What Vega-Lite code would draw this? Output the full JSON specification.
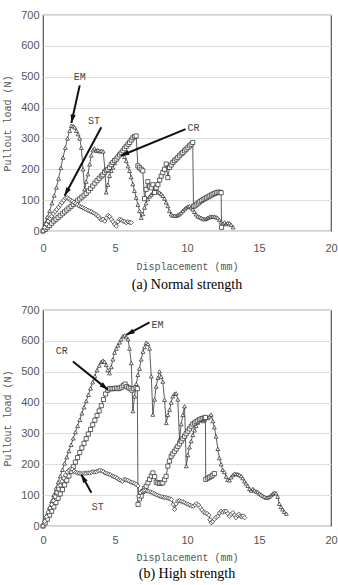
{
  "$schema": "https://vega.github.io/schema/vega-lite/v6.json",
  "padding": {"left": 2, "top": 8, "right": 0, "bottom": 0},
  "spacing": 10,
  "datasets": {
    "normal": [
      {"s":"EM","x":0,"y":0},{"s":"EM","x":0.15,"y":25},{"s":"EM","x":0.3,"y":45},{"s":"EM","x":0.46,"y":65},{"s":"EM","x":0.62,"y":90},{"s":"EM","x":0.78,"y":115},{"s":"EM","x":0.93,"y":141},{"s":"EM","x":1.08,"y":170},{"s":"EM","x":1.24,"y":205},{"s":"EM","x":1.39,"y":238},{"s":"EM","x":1.55,"y":270},{"s":"EM","x":1.7,"y":300},{"s":"EM","x":1.85,"y":325},{"s":"EM","x":1.97,"y":341},{"s":"EM","x":2.1,"y":340},{"s":"EM","x":2.2,"y":336},{"s":"EM","x":2.32,"y":325},{"s":"EM","x":2.43,"y":314},{"s":"EM","x":2.55,"y":300},{"s":"EM","x":2.66,"y":270},{"s":"EM","x":2.78,"y":200},{"s":"EM","x":2.89,"y":135},{"s":"EM","x":3.0,"y":160},{"s":"EM","x":3.12,"y":184},{"s":"EM","x":3.24,"y":216},{"s":"EM","x":3.35,"y":245},{"s":"EM","x":3.47,"y":262},{"s":"EM","x":3.58,"y":268},{"s":"EM","x":3.7,"y":260},{"s":"EM","x":3.82,"y":262},{"s":"EM","x":3.94,"y":258},{"s":"EM","x":4.05,"y":260},{"s":"EM","x":4.18,"y":258},{"s":"EM","x":4.3,"y":200},{"s":"EM","x":4.39,"y":125},{"s":"EM","x":4.5,"y":150},{"s":"EM","x":4.62,"y":179},{"s":"EM","x":4.74,"y":195},{"s":"EM","x":4.85,"y":206},{"s":"EM","x":4.97,"y":220},{"s":"EM","x":5.09,"y":233},{"s":"EM","x":5.2,"y":242},{"s":"EM","x":5.32,"y":249},{"s":"EM","x":5.45,"y":252},{"s":"EM","x":5.55,"y":250},{"s":"EM","x":5.66,"y":240},{"s":"EM","x":5.78,"y":227},{"s":"EM","x":5.9,"y":210},{"s":"EM","x":6.01,"y":195},{"s":"EM","x":6.12,"y":175},{"s":"EM","x":6.24,"y":152},{"s":"EM","x":6.35,"y":130},{"s":"EM","x":6.47,"y":108},{"s":"EM","x":6.59,"y":85},{"s":"EM","x":6.71,"y":65},{"s":"EM","x":6.82,"y":43},{"s":"EM","x":6.93,"y":55},{"s":"EM","x":7.05,"y":76},{"s":"EM","x":7.16,"y":90},{"s":"EM","x":7.28,"y":103},{"s":"EM","x":7.4,"y":112},{"s":"EM","x":7.52,"y":118},{"s":"EM","x":7.63,"y":124},{"s":"EM","x":7.75,"y":128},{"s":"EM","x":7.86,"y":130},{"s":"EM","x":7.98,"y":128},{"s":"EM","x":8.1,"y":124},{"s":"EM","x":8.21,"y":120},{"s":"EM","x":8.32,"y":114},{"s":"EM","x":8.44,"y":105},{"s":"EM","x":8.55,"y":93},{"s":"EM","x":8.67,"y":81},{"s":"EM","x":8.78,"y":65},{"s":"EM","x":8.9,"y":54},{"s":"EM","x":9.01,"y":50},{"s":"EM","x":9.13,"y":50},{"s":"EM","x":9.25,"y":49},{"s":"EM","x":9.37,"y":52},{"s":"EM","x":9.48,"y":55},{"s":"EM","x":9.6,"y":60},{"s":"EM","x":9.72,"y":66},{"s":"EM","x":9.83,"y":71},{"s":"EM","x":9.94,"y":76},{"s":"EM","x":10.06,"y":79},{"s":"EM","x":10.17,"y":81},{"s":"EM","x":10.29,"y":76},{"s":"EM","x":10.4,"y":70},{"s":"EM","x":10.52,"y":62},{"s":"EM","x":10.63,"y":54},{"s":"EM","x":10.75,"y":48},{"s":"EM","x":10.87,"y":45},{"s":"EM","x":10.98,"y":43},{"s":"EM","x":11.1,"y":40},{"s":"EM","x":11.21,"y":38},{"s":"EM","x":11.33,"y":40},{"s":"EM","x":11.44,"y":43},{"s":"EM","x":11.56,"y":45},{"s":"EM","x":11.67,"y":47},{"s":"EM","x":11.79,"y":46},{"s":"EM","x":11.9,"y":47},{"s":"EM","x":12.02,"y":45},{"s":"EM","x":12.13,"y":42},{"s":"EM","x":12.25,"y":36},{"s":"EM","x":12.37,"y":28},{"s":"EM","x":12.48,"y":24},{"s":"EM","x":12.6,"y":28},{"s":"EM","x":12.72,"y":22},{"s":"EM","x":12.83,"y":26},{"s":"EM","x":12.95,"y":25},{"s":"EM","x":13.06,"y":20},{"s":"EM","x":13.2,"y":12},
      {"s":"CR","x":0,"y":0},{"s":"CR","x":0.15,"y":5},{"s":"CR","x":0.3,"y":12},{"s":"CR","x":0.45,"y":18},{"s":"CR","x":0.6,"y":25},{"s":"CR","x":0.75,"y":32},{"s":"CR","x":0.9,"y":38},{"s":"CR","x":1.05,"y":44},{"s":"CR","x":1.2,"y":50},{"s":"CR","x":1.35,"y":56},{"s":"CR","x":1.5,"y":62},{"s":"CR","x":1.65,"y":68},{"s":"CR","x":1.8,"y":74},{"s":"CR","x":1.95,"y":80},{"s":"CR","x":2.1,"y":86},{"s":"CR","x":2.25,"y":92},{"s":"CR","x":2.4,"y":98},{"s":"CR","x":2.55,"y":104},{"s":"CR","x":2.7,"y":110},{"s":"CR","x":2.85,"y":116},{"s":"CR","x":3.0,"y":122},{"s":"CR","x":3.15,"y":130},{"s":"CR","x":3.3,"y":138},{"s":"CR","x":3.45,"y":146},{"s":"CR","x":3.6,"y":155},{"s":"CR","x":3.75,"y":163},{"s":"CR","x":3.9,"y":171},{"s":"CR","x":4.05,"y":178},{"s":"CR","x":4.16,"y":182},{"s":"CR","x":4.28,"y":190},{"s":"CR","x":4.4,"y":196},{"s":"CR","x":4.5,"y":200},{"s":"CR","x":4.62,"y":206},{"s":"CR","x":4.74,"y":215},{"s":"CR","x":4.85,"y":222},{"s":"CR","x":4.97,"y":228},{"s":"CR","x":5.09,"y":233},{"s":"CR","x":5.2,"y":240},{"s":"CR","x":5.32,"y":247},{"s":"CR","x":5.43,"y":253},{"s":"CR","x":5.55,"y":260},{"s":"CR","x":5.66,"y":267},{"s":"CR","x":5.78,"y":274},{"s":"CR","x":5.9,"y":281},{"s":"CR","x":6.01,"y":287},{"s":"CR","x":6.13,"y":295},{"s":"CR","x":6.24,"y":302},{"s":"CR","x":6.36,"y":306},{"s":"CR","x":6.47,"y":308},{"s":"CR","x":6.59,"y":211},{"s":"CR","x":6.7,"y":205},{"s":"CR","x":6.82,"y":200},{"s":"CR","x":6.93,"y":195},{"s":"CR","x":7.05,"y":105},{"s":"CR","x":7.16,"y":135},{"s":"CR","x":7.28,"y":160},{"s":"CR","x":7.4,"y":145},{"s":"CR","x":7.52,"y":140},{"s":"CR","x":7.63,"y":150},{"s":"CR","x":7.75,"y":125},{"s":"CR","x":7.86,"y":140},{"s":"CR","x":7.98,"y":150},{"s":"CR","x":8.1,"y":165},{"s":"CR","x":8.21,"y":178},{"s":"CR","x":8.32,"y":189},{"s":"CR","x":8.44,"y":200},{"s":"CR","x":8.56,"y":217},{"s":"CR","x":8.67,"y":173},{"s":"CR","x":8.79,"y":206},{"s":"CR","x":8.9,"y":214},{"s":"CR","x":9.02,"y":222},{"s":"CR","x":9.13,"y":228},{"s":"CR","x":9.25,"y":233},{"s":"CR","x":9.36,"y":238},{"s":"CR","x":9.48,"y":244},{"s":"CR","x":9.6,"y":250},{"s":"CR","x":9.71,"y":254},{"s":"CR","x":9.83,"y":260},{"s":"CR","x":9.94,"y":265},{"s":"CR","x":10.06,"y":270},{"s":"CR","x":10.17,"y":276},{"s":"CR","x":10.29,"y":281},{"s":"CR","x":10.4,"y":287},{"s":"CR","x":10.45,"y":80},{"s":"CR","x":10.56,"y":82},{"s":"CR","x":10.68,"y":87},{"s":"CR","x":10.79,"y":91},{"s":"CR","x":10.9,"y":95},{"s":"CR","x":11.02,"y":99},{"s":"CR","x":11.13,"y":102},{"s":"CR","x":11.25,"y":105},{"s":"CR","x":11.36,"y":108},{"s":"CR","x":11.48,"y":111},{"s":"CR","x":11.59,"y":114},{"s":"CR","x":11.71,"y":117},{"s":"CR","x":11.82,"y":120},{"s":"CR","x":11.94,"y":122},{"s":"CR","x":12.05,"y":124},{"s":"CR","x":12.17,"y":126},{"s":"CR","x":12.29,"y":125},{"s":"CR","x":12.37,"y":124},{"s":"CR","x":12.4,"y":12},
      {"s":"ST","x":0,"y":0},{"s":"ST","x":0.12,"y":12},{"s":"ST","x":0.24,"y":22},{"s":"ST","x":0.36,"y":32},{"s":"ST","x":0.48,"y":40},{"s":"ST","x":0.6,"y":48},{"s":"ST","x":0.72,"y":56},{"s":"ST","x":0.84,"y":63},{"s":"ST","x":0.96,"y":70},{"s":"ST","x":1.08,"y":77},{"s":"ST","x":1.2,"y":84},{"s":"ST","x":1.32,"y":92},{"s":"ST","x":1.44,"y":100},{"s":"ST","x":1.56,"y":106},{"s":"ST","x":1.68,"y":108},{"s":"ST","x":1.8,"y":104},{"s":"ST","x":1.92,"y":100},{"s":"ST","x":2.04,"y":97},{"s":"ST","x":2.16,"y":93},{"s":"ST","x":2.28,"y":89},{"s":"ST","x":2.4,"y":85},{"s":"ST","x":2.52,"y":81},{"s":"ST","x":2.64,"y":78},{"s":"ST","x":2.76,"y":76},{"s":"ST","x":2.88,"y":73},{"s":"ST","x":3.0,"y":70},{"s":"ST","x":3.12,"y":67},{"s":"ST","x":3.24,"y":65},{"s":"ST","x":3.36,"y":62},{"s":"ST","x":3.48,"y":59},{"s":"ST","x":3.6,"y":56},{"s":"ST","x":3.72,"y":52},{"s":"ST","x":3.84,"y":48},{"s":"ST","x":3.94,"y":40},{"s":"ST","x":4.05,"y":36},{"s":"ST","x":4.17,"y":38},{"s":"ST","x":4.29,"y":32},{"s":"ST","x":4.4,"y":42},{"s":"ST","x":4.52,"y":50},{"s":"ST","x":4.63,"y":47},{"s":"ST","x":4.74,"y":38},{"s":"ST","x":4.86,"y":30},{"s":"ST","x":4.97,"y":22},{"s":"ST","x":5.09,"y":16},{"s":"ST","x":5.2,"y":30},{"s":"ST","x":5.32,"y":38},{"s":"ST","x":5.44,"y":36},{"s":"ST","x":5.55,"y":32},{"s":"ST","x":5.67,"y":30},{"s":"ST","x":5.78,"y":27},{"s":"ST","x":5.9,"y":30},{"s":"ST","x":6.02,"y":28},{"s":"ST","x":6.12,"y":27}
    ],
    "high": [
      {"s":"EM","x":0,"y":0},{"s":"EM","x":0.15,"y":20},{"s":"EM","x":0.3,"y":40},{"s":"EM","x":0.45,"y":60},{"s":"EM","x":0.6,"y":81},{"s":"EM","x":0.75,"y":101},{"s":"EM","x":0.9,"y":122},{"s":"EM","x":1.05,"y":142},{"s":"EM","x":1.2,"y":162},{"s":"EM","x":1.35,"y":182},{"s":"EM","x":1.5,"y":203},{"s":"EM","x":1.65,"y":223},{"s":"EM","x":1.8,"y":243},{"s":"EM","x":1.95,"y":263},{"s":"EM","x":2.1,"y":284},{"s":"EM","x":2.25,"y":304},{"s":"EM","x":2.4,"y":324},{"s":"EM","x":2.55,"y":344},{"s":"EM","x":2.7,"y":365},{"s":"EM","x":2.85,"y":385},{"s":"EM","x":3.0,"y":405},{"s":"EM","x":3.15,"y":425},{"s":"EM","x":3.3,"y":446},{"s":"EM","x":3.45,"y":466},{"s":"EM","x":3.6,"y":486},{"s":"EM","x":3.75,"y":505},{"s":"EM","x":3.9,"y":520},{"s":"EM","x":4.05,"y":532},{"s":"EM","x":4.16,"y":536},{"s":"EM","x":4.28,"y":532},{"s":"EM","x":4.39,"y":522},{"s":"EM","x":4.5,"y":505},{"s":"EM","x":4.62,"y":495},{"s":"EM","x":4.74,"y":515},{"s":"EM","x":4.85,"y":540},{"s":"EM","x":4.97,"y":562},{"s":"EM","x":5.09,"y":575},{"s":"EM","x":5.2,"y":585},{"s":"EM","x":5.32,"y":595},{"s":"EM","x":5.43,"y":605},{"s":"EM","x":5.55,"y":615},{"s":"EM","x":5.66,"y":618},{"s":"EM","x":5.78,"y":612},{"s":"EM","x":5.9,"y":605},{"s":"EM","x":6.01,"y":575},{"s":"EM","x":6.13,"y":528},{"s":"EM","x":6.24,"y":372},{"s":"EM","x":6.36,"y":420},{"s":"EM","x":6.48,"y":460},{"s":"EM","x":6.59,"y":490},{"s":"EM","x":6.7,"y":510},{"s":"EM","x":6.82,"y":540},{"s":"EM","x":6.94,"y":565},{"s":"EM","x":7.05,"y":580},{"s":"EM","x":7.17,"y":594},{"s":"EM","x":7.29,"y":590},{"s":"EM","x":7.4,"y":575},{"s":"EM","x":7.52,"y":485},{"s":"EM","x":7.63,"y":361},{"s":"EM","x":7.75,"y":410},{"s":"EM","x":7.86,"y":452},{"s":"EM","x":7.98,"y":480},{"s":"EM","x":8.09,"y":501},{"s":"EM","x":8.2,"y":484},{"s":"EM","x":8.32,"y":468},{"s":"EM","x":8.44,"y":409},{"s":"EM","x":8.56,"y":334},{"s":"EM","x":8.67,"y":360},{"s":"EM","x":8.79,"y":377},{"s":"EM","x":8.9,"y":400},{"s":"EM","x":9.01,"y":420},{"s":"EM","x":9.13,"y":428},{"s":"EM","x":9.25,"y":430},{"s":"EM","x":9.36,"y":410},{"s":"EM","x":9.48,"y":280},{"s":"EM","x":9.6,"y":330},{"s":"EM","x":9.71,"y":360},{"s":"EM","x":9.83,"y":388},{"s":"EM","x":9.95,"y":194},{"s":"EM","x":10.06,"y":230},{"s":"EM","x":10.17,"y":255},{"s":"EM","x":10.29,"y":275},{"s":"EM","x":10.4,"y":295},{"s":"EM","x":10.52,"y":310},{"s":"EM","x":10.63,"y":325},{"s":"EM","x":10.75,"y":335},{"s":"EM","x":10.87,"y":345},{"s":"EM","x":10.98,"y":350},{"s":"EM","x":11.1,"y":340},{"s":"EM","x":11.21,"y":345},{"s":"EM","x":11.33,"y":352},{"s":"EM","x":11.45,"y":350},{"s":"EM","x":11.56,"y":355},{"s":"EM","x":11.68,"y":361},{"s":"EM","x":11.79,"y":340},{"s":"EM","x":11.9,"y":320},{"s":"EM","x":12.02,"y":290},{"s":"EM","x":12.14,"y":250},{"s":"EM","x":12.25,"y":220},{"s":"EM","x":12.37,"y":200},{"s":"EM","x":12.48,"y":182},{"s":"EM","x":12.6,"y":175},{"s":"EM","x":12.72,"y":160},{"s":"EM","x":12.83,"y":150},{"s":"EM","x":12.95,"y":148},{"s":"EM","x":13.06,"y":158},{"s":"EM","x":13.18,"y":165},{"s":"EM","x":13.3,"y":170},{"s":"EM","x":13.41,"y":168},{"s":"EM","x":13.53,"y":168},{"s":"EM","x":13.64,"y":165},{"s":"EM","x":13.76,"y":162},{"s":"EM","x":13.87,"y":155},{"s":"EM","x":13.99,"y":145},{"s":"EM","x":14.1,"y":138},{"s":"EM","x":14.22,"y":130},{"s":"EM","x":14.34,"y":120},{"s":"EM","x":14.45,"y":115},{"s":"EM","x":14.57,"y":120},{"s":"EM","x":14.68,"y":115},{"s":"EM","x":14.8,"y":112},{"s":"EM","x":14.91,"y":110},{"s":"EM","x":15.03,"y":105},{"s":"EM","x":15.14,"y":102},{"s":"EM","x":15.26,"y":98},{"s":"EM","x":15.37,"y":95},{"s":"EM","x":15.49,"y":92},{"s":"EM","x":15.6,"y":92},{"s":"EM","x":15.72,"y":95},{"s":"EM","x":15.84,"y":100},{"s":"EM","x":15.95,"y":104},{"s":"EM","x":16.07,"y":108},{"s":"EM","x":16.18,"y":106},{"s":"EM","x":16.3,"y":95},{"s":"EM","x":16.41,"y":72},{"s":"EM","x":16.53,"y":62},{"s":"EM","x":16.64,"y":54},{"s":"EM","x":16.76,"y":46},{"s":"EM","x":16.9,"y":40},
      {"s":"CR","x":0,"y":0},{"s":"CR","x":0.15,"y":10},{"s":"CR","x":0.3,"y":22},{"s":"CR","x":0.45,"y":35},{"s":"CR","x":0.6,"y":48},{"s":"CR","x":0.75,"y":62},{"s":"CR","x":0.9,"y":76},{"s":"CR","x":1.05,"y":90},{"s":"CR","x":1.2,"y":104},{"s":"CR","x":1.35,"y":118},{"s":"CR","x":1.5,"y":133},{"s":"CR","x":1.65,"y":148},{"s":"CR","x":1.8,"y":162},{"s":"CR","x":1.95,"y":177},{"s":"CR","x":2.1,"y":192},{"s":"CR","x":2.25,"y":207},{"s":"CR","x":2.4,"y":222},{"s":"CR","x":2.55,"y":238},{"s":"CR","x":2.7,"y":253},{"s":"CR","x":2.85,"y":268},{"s":"CR","x":3.0,"y":283},{"s":"CR","x":3.15,"y":298},{"s":"CR","x":3.3,"y":313},{"s":"CR","x":3.45,"y":328},{"s":"CR","x":3.6,"y":343},{"s":"CR","x":3.75,"y":358},{"s":"CR","x":3.9,"y":373},{"s":"CR","x":4.05,"y":390},{"s":"CR","x":4.2,"y":410},{"s":"CR","x":4.35,"y":428},{"s":"CR","x":4.5,"y":440},{"s":"CR","x":4.62,"y":445},{"s":"CR","x":4.74,"y":445},{"s":"CR","x":4.86,"y":445},{"s":"CR","x":4.98,"y":446},{"s":"CR","x":5.1,"y":447},{"s":"CR","x":5.22,"y":445},{"s":"CR","x":5.34,"y":447},{"s":"CR","x":5.46,"y":450},{"s":"CR","x":5.58,"y":455},{"s":"CR","x":5.7,"y":460},{"s":"CR","x":5.82,"y":452},{"s":"CR","x":5.94,"y":448},{"s":"CR","x":6.06,"y":445},{"s":"CR","x":6.18,"y":440},{"s":"CR","x":6.3,"y":445},{"s":"CR","x":6.45,"y":448},{"s":"CR","x":6.55,"y":445},{"s":"CR","x":6.6,"y":70},{"s":"CR","x":6.7,"y":88},{"s":"CR","x":6.82,"y":97},{"s":"CR","x":6.94,"y":112},{"s":"CR","x":7.05,"y":122},{"s":"CR","x":7.17,"y":129},{"s":"CR","x":7.29,"y":140},{"s":"CR","x":7.4,"y":151},{"s":"CR","x":7.52,"y":162},{"s":"CR","x":7.63,"y":172},{"s":"CR","x":7.75,"y":160},{"s":"CR","x":7.86,"y":142},{"s":"CR","x":7.98,"y":140},{"s":"CR","x":8.09,"y":138},{"s":"CR","x":8.21,"y":139},{"s":"CR","x":8.32,"y":140},{"s":"CR","x":8.44,"y":150},{"s":"CR","x":8.55,"y":161},{"s":"CR","x":8.67,"y":194},{"s":"CR","x":8.78,"y":210},{"s":"CR","x":8.9,"y":226},{"s":"CR","x":9.01,"y":234},{"s":"CR","x":9.13,"y":242},{"s":"CR","x":9.25,"y":250},{"s":"CR","x":9.36,"y":258},{"s":"CR","x":9.48,"y":266},{"s":"CR","x":9.6,"y":275},{"s":"CR","x":9.71,"y":283},{"s":"CR","x":9.83,"y":291},{"s":"CR","x":9.94,"y":299},{"s":"CR","x":10.06,"y":307},{"s":"CR","x":10.17,"y":315},{"s":"CR","x":10.29,"y":323},{"s":"CR","x":10.4,"y":330},{"s":"CR","x":10.52,"y":334},{"s":"CR","x":10.63,"y":338},{"s":"CR","x":10.75,"y":341},{"s":"CR","x":10.87,"y":345},{"s":"CR","x":10.98,"y":347},{"s":"CR","x":11.1,"y":349},{"s":"CR","x":11.21,"y":350},{"s":"CR","x":11.28,"y":352},{"s":"CR","x":11.3,"y":151},{"s":"CR","x":11.45,"y":155},{"s":"CR","x":11.56,"y":158},{"s":"CR","x":11.68,"y":161},{"s":"CR","x":11.79,"y":165},{"s":"CR","x":11.9,"y":170},
      {"s":"ST","x":0,"y":0},{"s":"ST","x":0.12,"y":15},{"s":"ST","x":0.24,"y":30},{"s":"ST","x":0.36,"y":45},{"s":"ST","x":0.48,"y":58},{"s":"ST","x":0.6,"y":70},{"s":"ST","x":0.72,"y":82},{"s":"ST","x":0.84,"y":95},{"s":"ST","x":0.96,"y":108},{"s":"ST","x":1.08,"y":120},{"s":"ST","x":1.2,"y":132},{"s":"ST","x":1.32,"y":145},{"s":"ST","x":1.44,"y":155},{"s":"ST","x":1.56,"y":165},{"s":"ST","x":1.68,"y":175},{"s":"ST","x":1.8,"y":181},{"s":"ST","x":1.92,"y":185},{"s":"ST","x":2.04,"y":184},{"s":"ST","x":2.16,"y":178},{"s":"ST","x":2.28,"y":174},{"s":"ST","x":2.4,"y":172},{"s":"ST","x":2.52,"y":171},{"s":"ST","x":2.64,"y":170},{"s":"ST","x":2.76,"y":170},{"s":"ST","x":2.88,"y":171},{"s":"ST","x":3.0,"y":171},{"s":"ST","x":3.12,"y":172},{"s":"ST","x":3.24,"y":172},{"s":"ST","x":3.36,"y":174},{"s":"ST","x":3.48,"y":176},{"s":"ST","x":3.6,"y":175},{"s":"ST","x":3.72,"y":176},{"s":"ST","x":3.84,"y":179},{"s":"ST","x":3.96,"y":180},{"s":"ST","x":4.08,"y":178},{"s":"ST","x":4.2,"y":176},{"s":"ST","x":4.32,"y":172},{"s":"ST","x":4.44,"y":170},{"s":"ST","x":4.56,"y":168},{"s":"ST","x":4.68,"y":166},{"s":"ST","x":4.8,"y":162},{"s":"ST","x":4.92,"y":160},{"s":"ST","x":5.04,"y":158},{"s":"ST","x":5.16,"y":155},{"s":"ST","x":5.28,"y":150},{"s":"ST","x":5.4,"y":148},{"s":"ST","x":5.52,"y":145},{"s":"ST","x":5.64,"y":150},{"s":"ST","x":5.76,"y":150},{"s":"ST","x":5.88,"y":148},{"s":"ST","x":6.0,"y":145},{"s":"ST","x":6.12,"y":142},{"s":"ST","x":6.24,"y":140},{"s":"ST","x":6.36,"y":138},{"s":"ST","x":6.48,"y":135},{"s":"ST","x":6.59,"y":130},{"s":"ST","x":6.65,"y":97},{"s":"ST","x":6.76,"y":108},{"s":"ST","x":6.88,"y":113},{"s":"ST","x":7.0,"y":115},{"s":"ST","x":7.12,"y":115},{"s":"ST","x":7.24,"y":113},{"s":"ST","x":7.36,"y":112},{"s":"ST","x":7.48,"y":110},{"s":"ST","x":7.6,"y":108},{"s":"ST","x":7.72,"y":105},{"s":"ST","x":7.84,"y":102},{"s":"ST","x":7.96,"y":100},{"s":"ST","x":8.08,"y":97},{"s":"ST","x":8.2,"y":95},{"s":"ST","x":8.32,"y":94},{"s":"ST","x":8.44,"y":92},{"s":"ST","x":8.56,"y":92},{"s":"ST","x":8.68,"y":90},{"s":"ST","x":8.8,"y":88},{"s":"ST","x":8.92,"y":86},{"s":"ST","x":9.04,"y":70},{"s":"ST","x":9.13,"y":54},{"s":"ST","x":9.24,"y":72},{"s":"ST","x":9.36,"y":81},{"s":"ST","x":9.48,"y":82},{"s":"ST","x":9.6,"y":80},{"s":"ST","x":9.72,"y":78},{"s":"ST","x":9.84,"y":75},{"s":"ST","x":9.96,"y":72},{"s":"ST","x":10.08,"y":70},{"s":"ST","x":10.2,"y":68},{"s":"ST","x":10.32,"y":65},{"s":"ST","x":10.44,"y":64},{"s":"ST","x":10.56,"y":68},{"s":"ST","x":10.68,"y":72},{"s":"ST","x":10.8,"y":68},{"s":"ST","x":10.92,"y":60},{"s":"ST","x":11.04,"y":52},{"s":"ST","x":11.16,"y":45},{"s":"ST","x":11.28,"y":42},{"s":"ST","x":11.4,"y":40},{"s":"ST","x":11.52,"y":35},{"s":"ST","x":11.6,"y":20},{"s":"ST","x":11.68,"y":11},{"s":"ST","x":11.79,"y":14},{"s":"ST","x":11.9,"y":22},{"s":"ST","x":12.02,"y":28},{"s":"ST","x":12.14,"y":32},{"s":"ST","x":12.26,"y":42},{"s":"ST","x":12.37,"y":48},{"s":"ST","x":12.49,"y":45},{"s":"ST","x":12.6,"y":48},{"s":"ST","x":12.72,"y":48},{"s":"ST","x":12.84,"y":40},{"s":"ST","x":12.95,"y":32},{"s":"ST","x":13.06,"y":38},{"s":"ST","x":13.18,"y":43},{"s":"ST","x":13.3,"y":35},{"s":"ST","x":13.4,"y":27},{"s":"ST","x":13.5,"y":34},{"s":"ST","x":13.6,"y":38},{"s":"ST","x":13.7,"y":32},{"s":"ST","x":13.8,"y":30},{"s":"ST","x":13.9,"y":33},{"s":"ST","x":14.0,"y":27}
    ],
    "arrowsA": [
      {"lab":"EM","x":2.55,"y":472,"x2":1.97,"y2":350},
      {"lab":"ST","x":4.05,"y":336,"x2":1.5,"y2":114},
      {"lab":"CR","x":9.9,"y":330,"x2":5.4,"y2":244}
    ],
    "labelsA": [
      {"lab":"EM","x":2.55,"y":498},
      {"lab":"ST","x":3.55,"y":358},
      {"lab":"CR","x":10.45,"y":334}
    ],
    "arrowsB": [
      {"lab":"EM","x":7.4,"y":660,"x2":5.78,"y2":619},
      {"lab":"CR","x":2.08,"y":533,"x2":4.5,"y2":442},
      {"lab":"ST","x":3.36,"y":108,"x2":2.66,"y2":167}
    ],
    "labelsB": [
      {"lab":"EM","x":7.95,"y":652},
      {"lab":"CR","x":1.3,"y":566},
      {"lab":"ST","x":3.8,"y":60}
    ]
  },
  "vconcat": [
    {
      "width": 288,
      "height": 216,
      "title": {"text": "(a)  Normal strength", "orient": "bottom", "anchor": "middle", "frame": "group", "font": "Liberation Serif", "fontSize": 14, "fontWeight": "normal", "color": "#000", "offset": 7},
      "layer": [
        {"data": {"name": "normal"}, "mark": {"type": "line", "color": "#333", "strokeWidth": 0.8},
         "encoding": {"x": {"field": "x", "type": "quantitative", "scale": {"domain": [0, 20], "nice": false}, "axis": {"values": [0, 5, 10, 15, 20], "tickCount": 5, "title": "Displacement (mm)", "grid": false, "labelPadding": 11, "titlePadding": 8}},
                      "y": {"field": "y", "type": "quantitative", "scale": {"domain": [0, 700], "nice": false}, "axis": {"values": [0, 100, 200, 300, 400, 500, 600, 700], "tickCount": 8, "title": "Pullout load (N)"}},
                      "detail": {"field": "s"}}},
        {"data": {"name": "normal"}, "mark": {"type": "point", "filled": true, "fill": "white", "stroke": "#222", "strokeWidth": 0.7, "opacity": 1},
         "encoding": {"x": {"field": "x", "type": "quantitative"}, "y": {"field": "y", "type": "quantitative"},
                      "shape": {"field": "s", "type": "nominal", "scale": {"domain": ["EM", "CR", "ST"], "range": ["triangle-up", "square", "diamond"]}, "legend": null},
                      "size": {"field": "s", "type": "nominal", "scale": {"domain": ["EM", "CR", "ST"], "range": [15, 19, 14]}, "legend": null}}},
        {"data": {"name": "arrowsA"}, "mark": {"type": "rule", "color": "#111", "strokeWidth": 2},
         "encoding": {"x": {"field": "x", "type": "quantitative"}, "y": {"field": "y", "type": "quantitative"}, "x2": {"field": "x2"}, "y2": {"field": "y2"}}},
        {"data": {"name": "arrowsA"}, "transform": [{"calculate": "atan2((datum.x2 - datum.x) * 14.4, (datum.y2 - datum.y) * 0.3086) * 180 / PI", "as": "ang"}],
         "mark": {"type": "point", "shape": "M0,0L-0.75,2.4L0.75,2.4Z", "filled": true, "color": "#111", "size": 49, "opacity": 1},
         "encoding": {"x": {"field": "x2", "type": "quantitative"}, "y": {"field": "y2", "type": "quantitative"}, "angle": {"field": "ang", "type": "quantitative", "scale": null}}},
        {"data": {"name": "labelsA"}, "mark": {"type": "text", "font": "Liberation Mono", "fontSize": 10, "color": "#444"},
         "encoding": {"x": {"field": "x", "type": "quantitative"}, "y": {"field": "y", "type": "quantitative"}, "text": {"field": "lab"}}}
      ]
    },
    {
      "width": 288,
      "height": 216,
      "title": {"text": "(b)  High strength", "orient": "bottom", "anchor": "middle", "frame": "group", "font": "Liberation Serif", "fontSize": 14, "fontWeight": "normal", "color": "#000", "offset": 5},
      "layer": [
        {"data": {"name": "high"}, "mark": {"type": "line", "color": "#333", "strokeWidth": 0.8},
         "encoding": {"x": {"field": "x", "type": "quantitative", "scale": {"domain": [0, 20], "nice": false}, "axis": {"values": [0, 5, 10, 15, 20], "tickCount": 5, "title": "Displacement (mm)", "grid": false, "labelPadding": 8, "titlePadding": 7}},
                      "y": {"field": "y", "type": "quantitative", "scale": {"domain": [0, 700], "nice": false}, "axis": {"values": [0, 100, 200, 300, 400, 500, 600, 700], "tickCount": 8, "title": "Pullout load (N)"}},
                      "detail": {"field": "s"}}},
        {"data": {"name": "high"}, "mark": {"type": "point", "filled": true, "fill": "white", "stroke": "#222", "strokeWidth": 0.7, "opacity": 1},
         "encoding": {"x": {"field": "x", "type": "quantitative"}, "y": {"field": "y", "type": "quantitative"},
                      "shape": {"field": "s", "type": "nominal", "scale": {"domain": ["EM", "CR", "ST"], "range": ["triangle-up", "square", "diamond"]}, "legend": null},
                      "size": {"field": "s", "type": "nominal", "scale": {"domain": ["EM", "CR", "ST"], "range": [15, 19, 14]}, "legend": null}}},
        {"data": {"name": "arrowsB"}, "mark": {"type": "rule", "color": "#111", "strokeWidth": 2},
         "encoding": {"x": {"field": "x", "type": "quantitative"}, "y": {"field": "y", "type": "quantitative"}, "x2": {"field": "x2"}, "y2": {"field": "y2"}}},
        {"data": {"name": "arrowsB"}, "transform": [{"calculate": "atan2((datum.x2 - datum.x) * 14.4, (datum.y2 - datum.y) * 0.3086) * 180 / PI", "as": "ang"}],
         "mark": {"type": "point", "shape": "M0,0L-0.75,2.4L0.75,2.4Z", "filled": true, "color": "#111", "size": 49, "opacity": 1},
         "encoding": {"x": {"field": "x2", "type": "quantitative"}, "y": {"field": "y2", "type": "quantitative"}, "angle": {"field": "ang", "type": "quantitative", "scale": null}}},
        {"data": {"name": "labelsB"}, "mark": {"type": "text", "font": "Liberation Mono", "fontSize": 10, "color": "#444"},
         "encoding": {"x": {"field": "x", "type": "quantitative"}, "y": {"field": "y", "type": "quantitative"}, "text": {"field": "lab"}}}
      ]
    }
  ],
  "config": {
    "font": "Liberation Sans",
    "view": {"stroke": "#555", "strokeWidth": 1.2},
    "axis": {"labelFont": "Liberation Sans", "labelFontSize": 11, "labelColor": "#555", "titleFont": "Liberation Mono", "titleFontSize": 10, "titleColor": "#555", "titleFontWeight": "normal", "domain": false, "ticks": false, "gridColor": "#ddd", "gridWidth": 1, "labelOverlap": false, "labelFlush": false},
    "axisY": {"labelPadding": 4, "titlePadding": 8}
  }
}
